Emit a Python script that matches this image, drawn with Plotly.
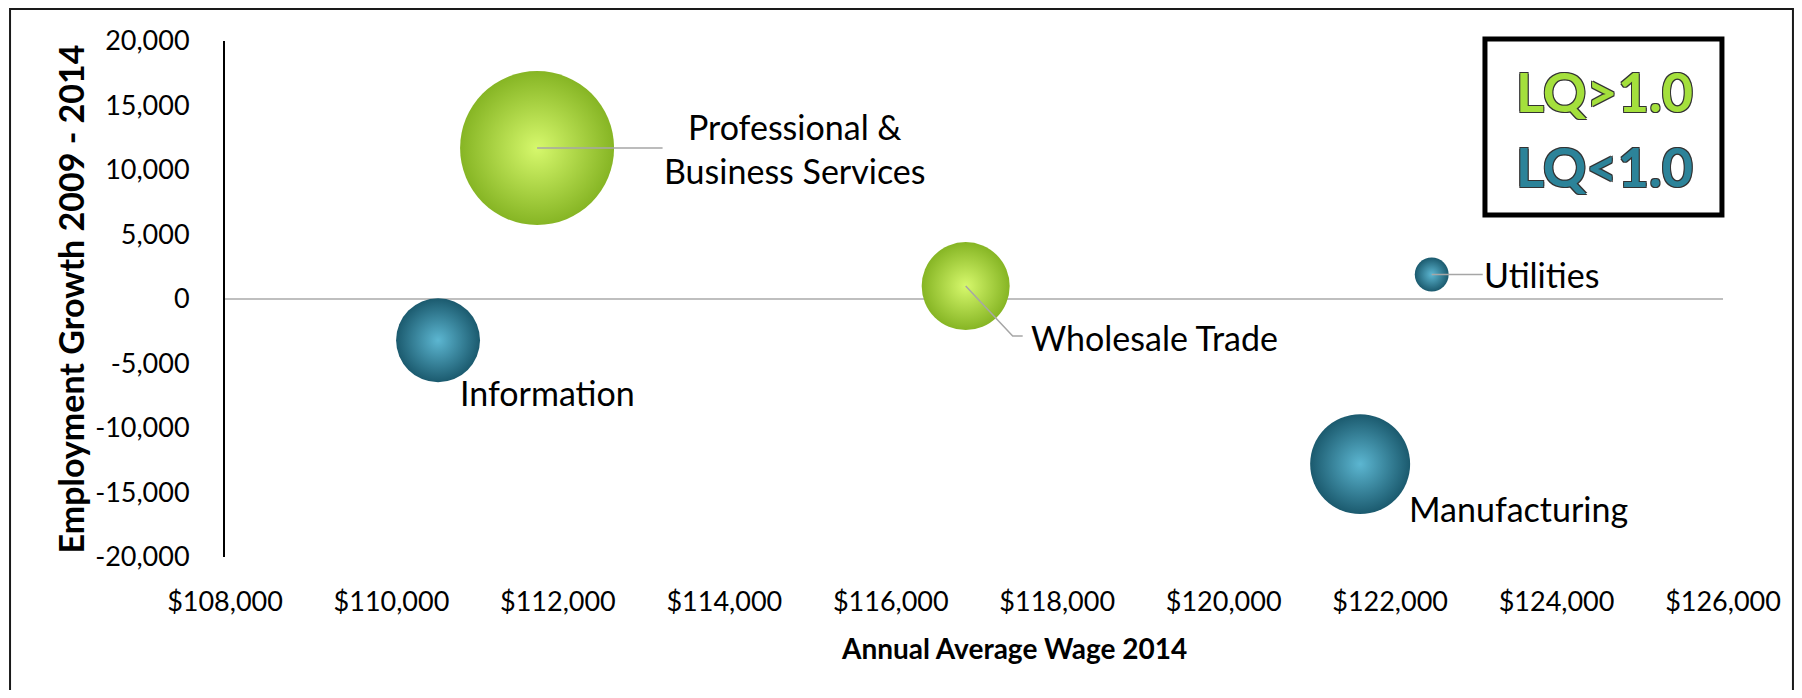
import plotly.graph_objects as go

# industries, wage vs employment growth, bubble = employment
industries = ["Professional &<br>Business Services", "Information", "Wholesale Trade",
              "Utilities", "Manufacturing"]
avg_wage = [111750, 110560, 116900, 122500, 121640]
emp_growth = [11700, -3200, 1000, 1900, -12800]
employment = [94900, 28200, 31000, 4600, 40000]
lq_above_one = [True, False, True, False, False]

x_ticks = list(range(108000, 126001, 2000))
x_tick_labels = ["$" + f"{v:,}" for v in x_ticks]
y_ticks = list(range(-20000, 20001, 5000))
y_tick_labels = [f"{v:,}" for v in y_ticks]

# radial gradient: marker colour = rim, gradient colour = centre
GREEN_RIM, GREEN_MID = "#86b524", "#d6f86c"
TEAL_RIM, TEAL_MID = "#1b5a6e", "#5cb6d1"
FONT = "Lato"

rim_cols = [GREEN_RIM if hi else TEAL_RIM for hi in lq_above_one]
mid_cols = [GREEN_MID if hi else TEAL_MID for hi in lq_above_one]

max_diam = 154
fig = go.Figure(go.Scatter(
    x=avg_wage, y=emp_growth, mode="markers",
    marker=dict(size=employment, sizemode="area",
                sizeref=2.0 * max(employment) / max_diam ** 2,
                color=rim_cols, opacity=1, line=dict(width=0),
                gradient=dict(type="radial", color=mid_cols)),
    hovertext=[s.replace("<br>", " ") for s in industries], hoverinfo="text",
    showlegend=False,
))

label_font = dict(family=FONT, size=34, color="black")
leader = dict(showarrow=True, arrowhead=0, arrowwidth=1.5, arrowcolor="#a6a6a6")

# labels with straight leader lines
fig.add_annotation(x=avg_wage[0], y=emp_growth[0], text=industries[0], ax=258, ay=0,
                   font=label_font, **leader)
fig.add_annotation(x=avg_wage[3], y=emp_growth[3], text=industries[3], ax=110, ay=0,
                   font=label_font, **leader)
# wholesale trade: elbow leader drawn as a pixel path from the bubble centre
fig.add_shape(type="path", xref="x", yref="y", xsizemode="pixel", ysizemode="pixel",
              xanchor=avg_wage[2], yanchor=emp_growth[2], path="M0,0 L47,-50 L57,-50",
              line=dict(color="#a6a6a6", width=1.5), layer="above")
fig.add_annotation(x=avg_wage[2], y=emp_growth[2], text=industries[2], showarrow=False,
                   xanchor="left", xshift=63, yshift=-51, font=label_font)
# labels without leader lines
fig.add_annotation(x=avg_wage[1], y=emp_growth[1], text=industries[1], showarrow=False,
                   xanchor="left", xshift=20, yshift=-52, font=label_font)
fig.add_annotation(x=avg_wage[4], y=emp_growth[4], text=industries[4], showarrow=False,
                   xanchor="left", xshift=47, yshift=-44, font=label_font)

# LQ key box
outline = "-1px -1px 0 #333, 1px -1px 0 #333, -1px 1px 0 #333, 1px 1px 0 #333"
fig.add_shape(type="rect", xref="paper", yref="paper", x0=0.8411, x1=0.9993, y0=0.6628, y1=1.0039,
              line=dict(color="black", width=5), fillcolor="white", layer="above")
fig.add_annotation(xref="paper", yref="paper", x=0.9206, y=0.903, xanchor="center", yanchor="middle",
                   text="<b>LQ&gt;1.0</b>", showarrow=False,
                   font=dict(family=FONT, size=54, color="#a4e03c", shadow=outline))
fig.add_annotation(xref="paper", yref="paper", x=0.9206, y=0.757, xanchor="center", yanchor="middle",
                   text="<b>LQ&lt;1.0</b>", showarrow=False,
                   font=dict(family=FONT, size=54, color="#2c8399", shadow=outline))

# x axis title sits right of the plot centre in the original
fig.add_annotation(xref="paper", yref="paper", x=0.527, y=-0.1764, xanchor="center", yanchor="middle",
                   text="<b>Annual Average Wage 2014</b>", showarrow=False,
                   font=dict(family=FONT, size=28, color="black"))

# outer chart frame
fig.add_shape(type="rect", xref="paper", yref="paper", x0=-0.1435, x1=1.0467, y0=-0.3, y1=1.062,
              line=dict(color="#1a1a1a", width=2), layer="below")

# the page body adds an 8px margin, so the figure is shrunk to fit without scrolling
fig.update_layout(
    width=1786, height=682,
    margin=dict(l=217, r=71, t=33, b=133, autoexpand=False),
    paper_bgcolor="white", plot_bgcolor="white",
    font=dict(family=FONT, size=27, color="black"),
    xaxis=dict(range=[108000, 126000], tickvals=x_ticks, ticktext=x_tick_labels,
               showgrid=False, zeroline=False, showline=False, ticks="",
               ticklabelstandoff=26, automargin=False),
    yaxis=dict(range=[-20000, 20000], tickvals=y_ticks, ticktext=y_tick_labels,
               showgrid=False, zeroline=True, zerolinecolor="#bfbfbf", zerolinewidth=2,
               showline=True, linecolor="black", linewidth=2, ticks="",
               ticklabelstandoff=28, automargin=False,
               title=dict(text="<b>Employment Growth 2009 - 2014</b>", font=dict(size=34), standoff=0)),
)

fig.write_html("out.html")
